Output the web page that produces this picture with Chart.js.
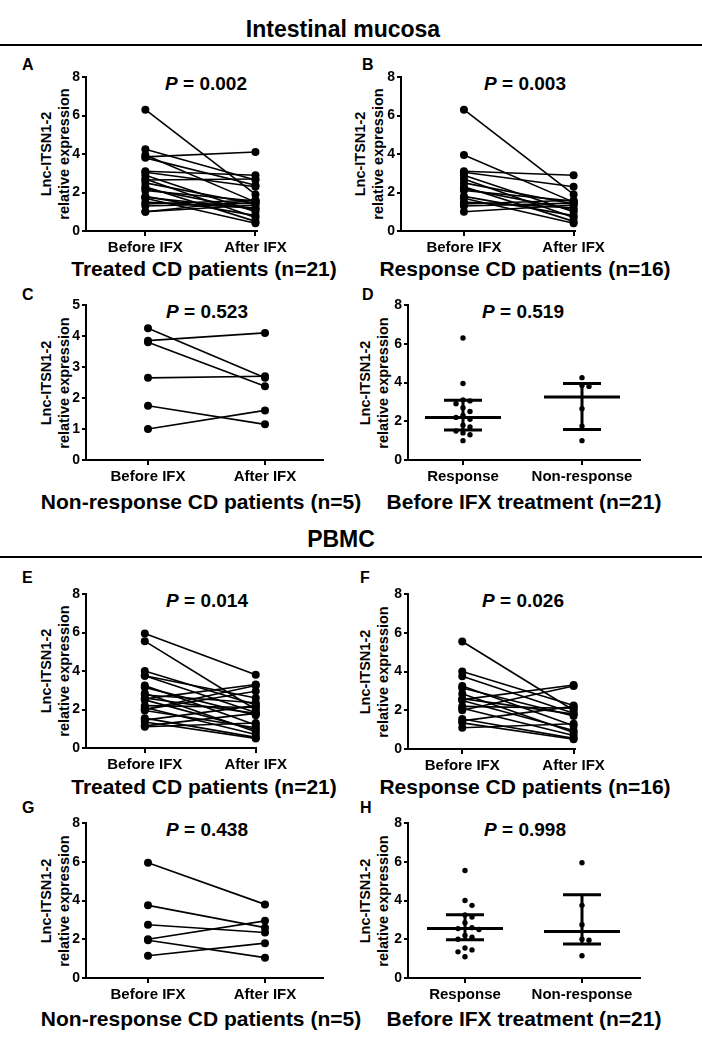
<!DOCTYPE html>
<html><head><meta charset="utf-8">
<script src="https://cdn.jsdelivr.net/npm/chart.js@4.4.0/dist/chart.umd.min.js"></script>
<style>
html,body{margin:0;padding:0;background:#fff;}
body{width:702px;height:1044px;position:relative;overflow:hidden;font-family:"Liberation Sans",Arial,sans-serif;font-weight:bold;color:#000;}
.t{position:absolute;transform:translate(-50%,-50%);white-space:nowrap;line-height:1;}
.l{position:absolute;transform:translate(0,-50%);white-space:nowrap;line-height:1;font-size:16px;}
.yt{position:absolute;transform:translate(-50%,-50%) rotate(-90deg);white-space:nowrap;font-size:14.5px;line-height:1;}
.rule{position:absolute;left:0;width:702px;height:2px;background:#000;}
canvas{position:absolute;}
</style></head><body>
<div id="root"></div>
<script>
// ---------------- DATA ----------------
const pairLabels = ['Before IFX', 'After IFX'];
const groupLabels = ['Response', 'Non-response'];
const yTitle = ['Lnc-ITSN1-2', 'relative expression'];

// Intestinal mucosa, response patients (B)
const mucResBefore = [6.3, 3.95, 3.1, 3.05, 2.9, 2.7, 2.5, 2.3, 2.2, 2.1, 1.8, 1.7, 1.5, 1.4, 1.3, 1.0];
const mucResAfter  = [1.9, 1.5, 2.9, 2.3, 1.0, 0.7, 1.4, 0.5, 1.1, 1.55, 0.8, 0.4, 1.2, 1.6, 1.45, 1.35];
// Intestinal mucosa, non-response patients (C)
const mucNonBefore = [4.25, 3.85, 3.8, 2.65, 1.75, 1.0];
const mucNonAfter  = [2.65, 4.1, 2.38, 2.7, 1.15, 1.6];
// PBMC, response patients (F)
const pbmcResBefore = [5.55, 4.0, 3.75, 3.25, 3.15, 2.85, 2.6, 2.55, 2.5, 2.2, 2.1, 2.0, 1.55, 1.45, 1.35, 1.1];
const pbmcResAfter  = [2.0, 2.25, 1.85, 1.2, 1.7, 0.85, 1.8, 3.3, 0.95, 2.1, 0.7, 3.25, 0.55, 2.2, 0.5, 1.3];
// PBMC, non-response patients (G)
const pbmcNonBefore = [5.95, 3.75, 2.75, 2.0, 1.95, 1.15];
const pbmcNonAfter  = [3.8, 2.6, 2.35, 2.95, 1.05, 1.8];

// median with interquartile range (D, H)
const mucMedian = [2.2, 3.25];
const mucQ1 = [1.55, 1.58];
const mucQ3 = [3.08, 3.95];
const pbmcMedian = [2.55, 2.4];
const pbmcQ1 = [1.97, 1.75];
const pbmcQ3 = [3.27, 4.3];

const pValues = ['0.002', '0.003', '0.523', '0.519', '0.014', '0.026', '0.438', '0.998'];
const subtitles = ['Treated CD patients (n=21)', 'Response CD patients (n=16)',
  'Non-response CD patients (n=5)', 'Before IFX treatment (n=21)',
  'Treated CD patients (n=21)', 'Response CD patients (n=16)',
  'Non-response CD patients (n=5)', 'Before IFX treatment (n=21)'];
const panelLetters = ['A','B','C','D','E','F','G','H'];
const sectionTitles = ['Intestinal mucosa', 'PBMC'];

// ---------------- LAYOUT ----------------
const FONT = '"Liberation Sans", Arial, sans-serif';
const root = document.getElementById('root');
function addDiv(cls, x, y, html, style) {
  const d = document.createElement('div');
  d.className = cls; d.style.left = x + 'px'; d.style.top = y + 'px';
  if (style) d.style.cssText += style;
  d.innerHTML = html; root.appendChild(d); return d;
}
addDiv('t', 343, 29, sectionTitles[0], 'font-size:23px');
addDiv('rule', 0, 44, '');
addDiv('t', 341, 539, sectionTitles[1], 'font-size:23px');
addDiv('rule', 0, 556, '');

// chart-area frames: L, T, R, B, positions of the two categories
const frames = [
  {L:86,  T:77,  R:265, B:231, c0:148, c1:263, yMax:8, step:2, letter:[22,65],  yt:[46,64],   p:[206,83],  sub:[204,268]},
  {L:401, T:77,  R:583, B:231, c0:467, c1:582, yMax:8, step:2, letter:[362,65], yt:[360,378], p:[525,83],  sub:[525,268]},
  {L:86,  T:305, R:323, B:460, c0:148, c1:265, yMax:5, step:1, letter:[22,295], yt:[46,64],   p:[207,311], sub:[201,501]},
  {L:408, T:305, R:640, B:460, c0:463, c1:582, yMax:8, step:2, letter:[362,295],yt:[365,383], p:[523,311], sub:[524,501]},
  {L:86,  T:594, R:265, B:748, c0:148, c1:265, yMax:8, step:2, letter:[22,578], yt:[46,64],   p:[207,600], sub:[204,786]},
  {L:408, T:594, R:583, B:749, c0:465, c1:582, yMax:8, step:2, letter:[360,578],yt:[365,383], p:[523,600], sub:[525,786]},
  {L:86,  T:823, R:323, B:978, c0:148, c1:265, yMax:8, step:2, letter:[22,808], yt:[46,64],   p:[207,829], sub:[201,1018]},
  {L:408, T:823, R:640, B:978, c0:465, c1:582, yMax:8, step:2, letter:[360,808],yt:[365,383], p:[525,829], sub:[524,1018]},
];

const YW = 50, PT = 15, PR = 25, XH = 34;

function baseOptions(f, labels) {
  const unit = f.c1 - f.c0;
  const xFont = {family: FONT, size: 15, weight: 'bold'};
  const yFont = {family: FONT, size: 14, weight: 'bold'};
  return {
    responsive: false, animation: false, events: [],
    layout: {padding: {left: 0, top: PT, right: PR, bottom: 0}},
    plugins: {legend: {display: false}, tooltip: {enabled: false}},
    scales: {
      x: {
        type: 'linear', min: (f.L - f.c0) / unit, max: (f.R - f.c0) / unit,
        afterBuildTicks: s => { s.ticks = labels.map((_, i) => ({value: i})); },
        afterFit: s => { s.height = XH; },
        ticks: {callback: (v, i) => labels[i], font: xFont, color: '#000', padding: 3, autoSkip: false, maxRotation: 0},
        grid: {display: true, drawOnChartArea: false, drawTicks: true, tickLength: 5, color: '#000', lineWidth: 2},
        border: {display: true, color: '#000', width: 2}
      },
      y: {
        min: 0, max: f.yMax,
        afterFit: s => { s.width = YW; },
        ticks: {stepSize: f.step, font: yFont, color: '#000', padding: 2},
        grid: {display: true, drawOnChartArea: false, drawTicks: true, tickLength: 4, color: '#000', lineWidth: 2},
        border: {display: true, color: '#000', width: 2}
      }
    }
  };
}

function makeCanvas(f) {
  const c = document.createElement('canvas');
  const w = f.R - f.L + YW + PR, h = f.B - f.T + PT + XH;
  c.width = w; c.height = h;
  c.style.left = (f.L - YW) + 'px'; c.style.top = (f.T - PT) + 'px';
  c.style.width = w + 'px'; c.style.height = h + 'px';
  root.appendChild(c);
  return c;
}

function pairedChart(f, before, after) {
  const datasets = before.map((b, i) => ({
    data: [{x: 0, y: b}, {x: 1, y: after[i]}],
    showLine: true, borderColor: '#000', borderWidth: 1.6,
    pointRadius: 4, pointBackgroundColor: '#000', pointBorderWidth: 0, clip: false
  }));
  new Chart(makeCanvas(f), {type: 'scatter', data: {datasets}, options: baseOptions(f, pairLabels)});
}

// beeswarm offsets (x data units) so dots with similar values do not overlap
function swarm(values, xPU, yPU, d) {
  const order = values.map((v, i) => i).sort((a, b) => values[b] - values[a]);
  const placed = [], off = new Array(values.length).fill(0);
  for (const i of order) {
    const py = values[i] * yPU;
    for (let k = 0; k < 60; k++) {
      const px = k === 0 ? 0 : (k % 2 ? 1 : -1) * Math.ceil(k / 2) * d * 0.5;
      if (placed.every(p => Math.hypot(p[0] - px, p[1] - py) >= d)) {
        placed.push([px, py]); off[i] = px / xPU; break;
      }
    }
  }
  return off;
}

function dotChart(f, groups, med, q1, q3) {
  const xPU = (f.c1 - f.c0), yPU = (f.B - f.T) / f.yMax;
  const datasets = groups.map((vals, g) => {
    const off = swarm(vals, xPU, yPU, 7);
    return {data: vals.map((v, i) => ({x: g + off[i], y: v})), showLine: false,
      pointRadius: 2.7, pointBackgroundColor: '#000', pointBorderWidth: 0, clip: false};
  });
  const summary = {
    id: 'summary',
    afterDatasetsDraw(chart) {
      const ctx = chart.ctx, xs = chart.scales.x, ys = chart.scales.y;
      ctx.save(); ctx.strokeStyle = '#000'; ctx.lineWidth = 3; ctx.lineCap = 'butt';
      med.forEach((m, g) => {
        const px = xs.getPixelForValue(g);
        const ym = ys.getPixelForValue(m), y1 = ys.getPixelForValue(q1[g]), y3 = ys.getPixelForValue(q3[g]);
        ctx.beginPath();
        ctx.moveTo(px - 38, ym); ctx.lineTo(px + 38, ym);
        ctx.moveTo(px, y1); ctx.lineTo(px, y3);
        ctx.moveTo(px - 19, y1); ctx.lineTo(px + 19, y1);
        ctx.moveTo(px - 19, y3); ctx.lineTo(px + 19, y3);
        ctx.stroke();
      });
      ctx.restore();
    }
  };
  new Chart(makeCanvas(f), {type: 'scatter', data: {datasets}, options: baseOptions(f, groupLabels), plugins: [summary]});
}

// panel texts
frames.forEach((f, i) => {
  addDiv('l', f.letter[0], f.letter[1], panelLetters[i]);
  const cy = (f.T + f.B) / 2;
  addDiv('yt', f.yt[0], cy, yTitle[0]);
  addDiv('yt', f.yt[1], cy, yTitle[1]);
  addDiv('t', f.p[0], f.p[1], '<i>P</i> = ' + pValues[i], 'font-size:19px');
  addDiv('t', f.sub[0], f.sub[1], subtitles[i], 'font-size:21px');
});

pairedChart(frames[0], mucResBefore.concat(mucNonBefore), mucResAfter.concat(mucNonAfter));
pairedChart(frames[1], mucResBefore, mucResAfter);
pairedChart(frames[2], mucNonBefore, mucNonAfter);
dotChart(frames[3], [mucResBefore, mucNonBefore], mucMedian, mucQ1, mucQ3);
pairedChart(frames[4], pbmcResBefore.concat(pbmcNonBefore), pbmcResAfter.concat(pbmcNonAfter));
pairedChart(frames[5], pbmcResBefore, pbmcResAfter);
pairedChart(frames[6], pbmcNonBefore, pbmcNonAfter);
dotChart(frames[7], [pbmcResBefore, pbmcNonBefore], pbmcMedian, pbmcQ1, pbmcQ3);
</script>
</body></html>
